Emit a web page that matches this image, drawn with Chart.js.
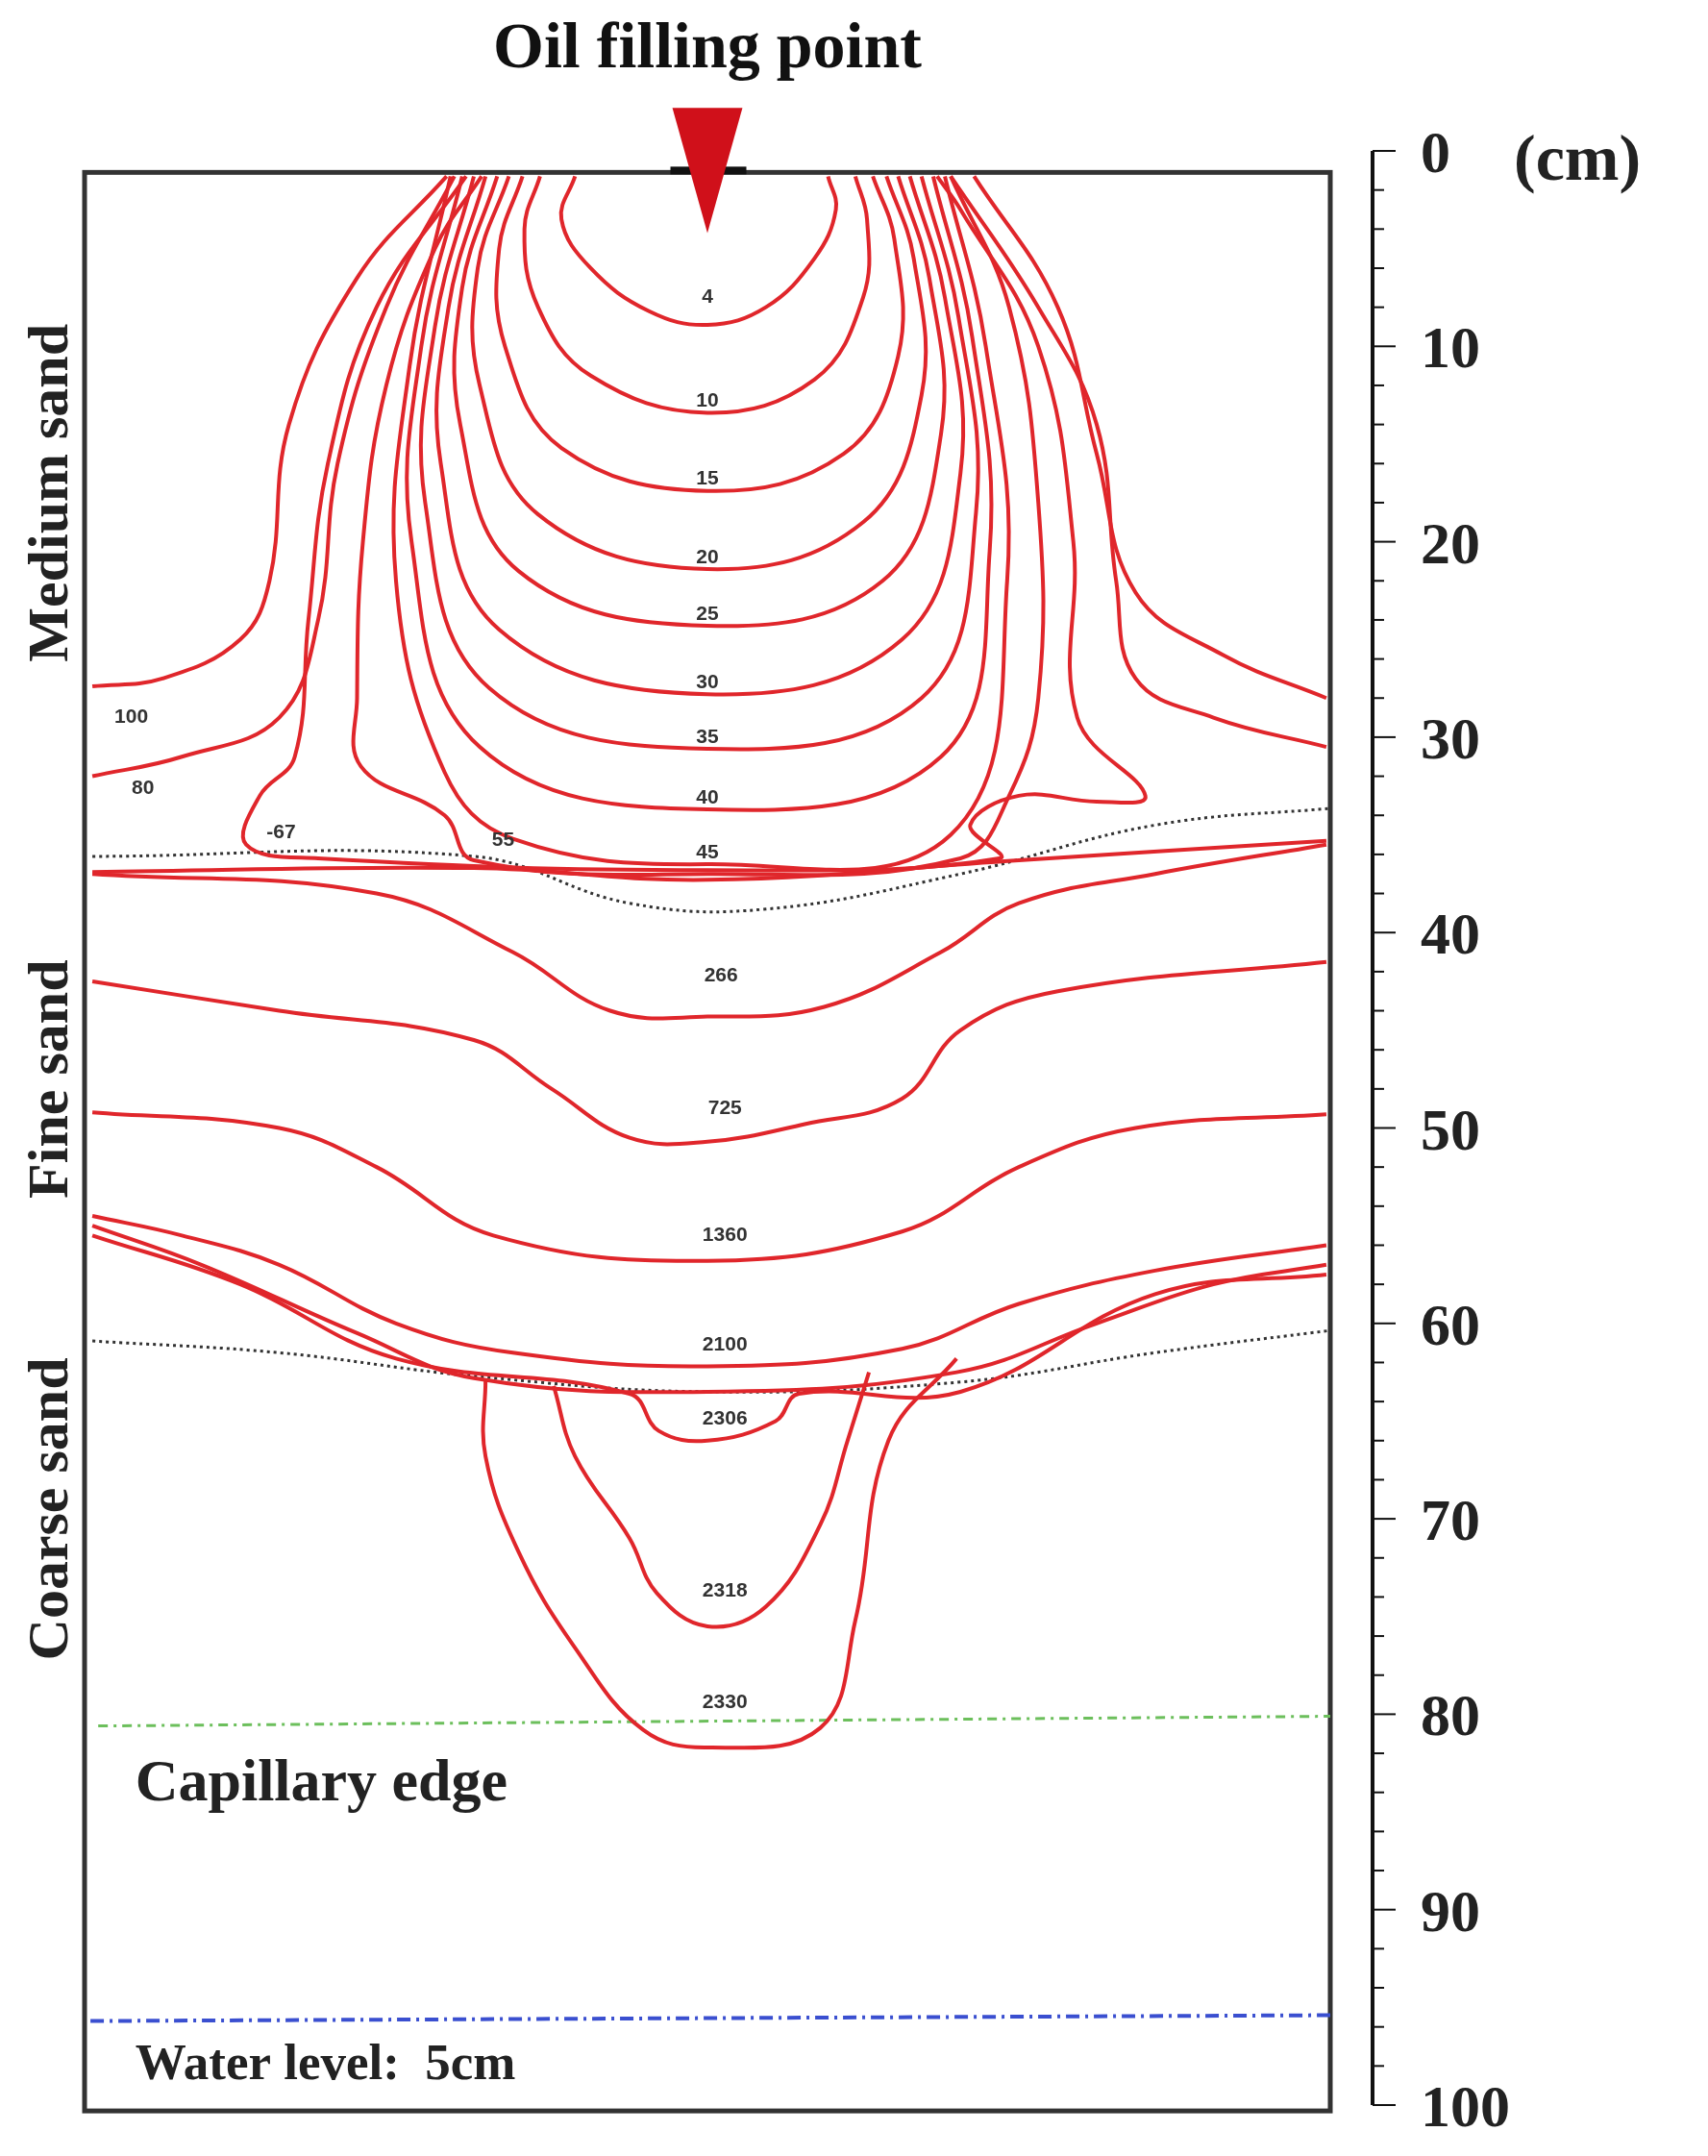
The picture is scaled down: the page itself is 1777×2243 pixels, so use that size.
<!DOCTYPE html>
<html><head><meta charset="utf-8">
<script src="https://cdn.jsdelivr.net/npm/chart.js@4/dist/chart.umd.min.js"></script>
<style>html,body{margin:0;background:#fff}#w{width:1777px;height:2243px}</style>
</head><body><div id="w"><canvas id="c"></canvas></div>
<script>
// depth ticks (cm)
const yTicks=[0,10,20,30,40,50,60,70,80,90,100];
// contour lines: [x(cm from left wall), depth(cm)]
const c4=[[25.2,1.3],[24.5,3.5],[26,6],[29,8.2],[32,8.9],[35,8],[37.5,5.5],[38.6,3],[38.2,1.3]];
const c10=[[23.4,1.3],[22.6,4],[23.3,8],[26,11.5],[32,13.4],[37.5,11.7],[40,7.5],[40.2,3.5],[39.6,1.3]];
const c15=[[22.5,1.3],[21.3,5],[21.6,10],[24.5,15.2],[32,17.4],[39,15.5],[41.8,10.5],[41.6,4.5],[40.5,1.3]];
const c20=[[21.8,1.3],[20.2,6],[20.3,12],[23.3,18.6],[32,21.4],[40,19],[43,12.5],[42.6,5.5],[41.2,1.3]];
const c25=[[21.2,1.3],[19.4,7],[19.3,14],[22.3,21.5],[32,24.3],[41,22],[44,14.5],[43.4,6.5],[41.8,1.3]];
const c30=[[20.6,1.3],[18.7,8],[18.3,16],[21.3,24.5],[32,27.8],[42,25],[45,16.5],[44.2,7.5],[42.4,1.3]];
const c35=[[20,1.3],[18,9],[17.5,18],[20.8,27.5],[32,30.6],[43,28],[45.8,18.5],[44.9,8.5],[43,1.3]];
const c40=[[19.4,1.3],[17.3,10],[16.8,20],[20.3,30.5],[32,33.7],[44,31],[46.5,20.5],[45.6,9.5],[43.6,1.3]];
const c45=[[18.8,1.3],[16.7,11],[16,22],[18.5,31.8],[22,35.2],[32,36.5],[44.5,35],[47.4,22],[46.3,10],[44.2,1.3]];
const c55=[[20.4,1.3],[18,5],[15.5,12],[14.3,20],[14,28],[14.2,31.5],[18.5,34],[20,36.3],[32,37],[45,36.2],[47.5,33],[49,28],[49,18],[47.5,8],[44.5,1.3]];
const c67=[[19.6,1.3],[15,8],[12.5,16],[11.5,24],[10.8,31],[9,33],[8.3,35.5],[12,36.2],[32,36.8],[47,36.2],[45.5,34.5],[48,33],[52,33.3],[54.5,33],[51,29],[50.8,20],[49,10],[45,3],[43.8,1.3]];
const c80L=[[0.4,32],[5,31],[10,29],[12,24],[13,16],[15.5,8],[19,1.3]];
const c80R=[[44.5,1.3],[49,8],[52,14],[53,22],[54,27],[58,29],[63.8,30.5]];
const c100L=[[0.4,27.4],[4,27],[8,25],[9.5,22],[10.5,14],[14,6.5],[18.6,1.3]];
const c100R=[[45.7,1.3],[50,8],[52,15.5],[54,22.6],[58.5,25.8],[63.8,28]];
const cBase=[[0.4,36.9],[20,36.7],[32,37.3],[48,36.3],[63.8,35.3]];
const c266=[[0.4,37],[15,38],[22,41],[27,44],[32,44.3],[38,43.8],[44,41],[48,38.5],[55,37],[63.8,35.5]];
const c725=[[0.4,42.5],[10,44],[20,45.5],[24,48],[28,50.5],[32,50.7],[37,49.8],[42,48.5],[45,45],[50,43],[63.8,41.5]];
const c1360=[[0.4,49.2],[10,50],[15,52],[21,55.5],[32,56.8],[42,55.3],[48,52],[54,50],[63.8,49.3]];
const c2100=[[0.4,54.5],[5,55.5],[10,57],[16,60],[22,61.5],[32,62.2],[42,61.3],[48,59],[55,57.3],[63.8,56]];
const cB2=[[0.4,55],[6,57],[14,60.5],[20,62.8],[32,63.5],[44.8,62.5],[52,60],[58,58],[63.8,57]];
const cB3=[[0.4,55.5],[8,58],[16,61.8],[28,63.6],[29.5,65.5],[32,66],[35.5,65],[36.7,63.6],[45,63.5],[55,58.5],[63.8,57.5]];
const c2318=[[24.1,63.2],[25.2,66.8],[28,71],[29.4,73.8],[32,75.5],[35,74.5],[37.8,70.3],[39.2,66],[40.3,62.5]];
const c2330=[[20.6,62.9],[20.6,66.8],[22.3,71.7],[25.2,76.6],[28.7,80.8],[32,81.7],[37.8,80.7],[39.6,75.2],[41.3,66],[44.8,61.8]];
// layer boundaries and levels
const dot1=[[0.4,36.1],[20,36.1],[28,38.5],[35,38.8],[45,37],[55,34.5],[64.5,33.6]];
const dot2=[[0.4,60.9],[10,61.5],[20,62.7],[32,63.5],[45,63],[55,61.5],[64.5,60.3]];
const capEdge=[[0.7,80.6],[64.5,80.1]];
const water=[[0.3,95.7],[64.5,95.4]];
// contour labels
const labels=[["4",32,7.5],["10",32,12.8],["15",32,16.8],["20",32,20.8],["25",32,23.7],["30",32,27.2],["35",32,30],["40",32,33.1],["45",32,35.9],
["100",2.4,29],["80",3,32.6],["-67",10.1,34.9],["55",21.5,35.3],["266",32.7,42.2],["725",32.9,49],["1360",32.9,55.5],["2100",32.9,61.1],["2306",32.9,64.9],["2318",32.9,73.7],["2330",32.9,79.4]];

const red='#e0262b';
const pts=a=>a.map(p=>({x:p[0],y:p[1]}));
const reds=[c4,c10,c15,c20,c25,c30,c35,c40,c45,c55,c67,c80L,c80R,c100L,c100R,cBase,c266,c725,c1360,c2100,cB2,cB3,c2318,c2330];
const ds=reds.map(a=>({data:pts(a),borderColor:red,borderWidth:4,tension:0.4}));
ds.push({data:pts(dot1),borderColor:'#333',borderWidth:3,borderDash:[3,4],tension:0.4});
ds.push({data:pts(dot2),borderColor:'#333',borderWidth:3,borderDash:[3,4],tension:0.4});
ds.push({data:pts(capEdge),borderColor:'#6cbf5c',borderWidth:3,borderDash:[10,6,3,6]});
ds.push({data:pts(water),borderColor:'#3a4fd0',borderWidth:4,borderDash:[14,6,3,6]});
ds.forEach(d=>{d.showLine=true;d.pointRadius=0;d.fill=false;});

const deco={id:'deco',
 beforeDatasetsDraw(ch){const {ctx,scales:{x,y}}=ch;
  ctx.save();ctx.strokeStyle='#333';ctx.lineWidth=5;
  const L=x.getPixelForValue(0),R=x.getPixelForValue(64),T=y.getPixelForValue(1.1),B=y.getPixelForValue(100.3);
  ctx.strokeRect(L,T,R-L,B-T);ctx.restore();},
 afterDatasetsDraw(ch){const {ctx,scales:{x,y}}=ch;ctx.save();
  const px=v=>x.getPixelForValue(v),py=v=>y.getPixelForValue(v);
  ctx.fillStyle='#111';ctx.fillRect(px(30.1),py(1.1)-6,px(34)-px(30.1),8);
  ctx.fillStyle='#d0101a';ctx.beginPath();ctx.moveTo(px(30.2),py(-2.2));ctx.lineTo(px(33.8),py(-2.2));ctx.lineTo(px(32),py(4.2));ctx.closePath();ctx.fill();
  ctx.fillStyle='#111';ctx.textAlign='center';ctx.textBaseline='middle';
  ctx.font='bold 68px "Liberation Serif","DejaVu Serif",serif';
  ctx.fillText('Oil filling point',px(32),52);
  ctx.font='bold 21px "Liberation Sans",Arial,sans-serif';ctx.fillStyle='#333';
  labels.forEach(l=>ctx.fillText(l[0],px(l[1]),py(l[2])));
  ctx.fillStyle='#222';ctx.textAlign='left';
  ctx.font='bold 62px "Liberation Serif",serif';
  ctx.fillText('Capillary edge',px(2.6),py(83.6));
  ctx.font='bold 53px "Liberation Serif",serif';
  ctx.fillText('Water level:  5cm',px(2.6),py(98));
  ctx.font='bold 60px "Liberation Serif",serif';ctx.textAlign='center';
  [['Medium sand',17.5],['Fine sand',47.5],['Coarse sand',69.5]].forEach(t=>{
   ctx.save();ctx.translate(54,py(t[1]));ctx.rotate(-Math.PI/2);ctx.fillText(t[0],0,0);ctx.restore();});
  const ax=1428;ctx.strokeStyle='#111';ctx.lineWidth=4;
  ctx.beginPath();ctx.moveTo(ax,py(0));ctx.lineTo(ax,py(100));ctx.stroke();
  ctx.lineWidth=2;
  for(let v=0;v<=100;v+=2){ctx.beginPath();ctx.moveTo(ax,py(v));ctx.lineTo(ax+(v%10===0?24:12),py(v));ctx.stroke();}
  ctx.font='bold 62px "Liberation Serif",serif';ctx.textAlign='left';
  yTicks.forEach(v=>ctx.fillText(String(v),ax+50,py(v)+6));
  ctx.font='bold 68px "Liberation Serif",serif';
  ctx.fillText('(cm)',1575,py(0)+12);
  ctx.restore();}};

new Chart(document.getElementById('c'),{type:'scatter',data:{datasets:ds},
 options:{responsive:true,maintainAspectRatio:false,animation:false,
  layout:{padding:{left:88,top:157,right:393,bottom:53}},
  plugins:{legend:{display:false},tooltip:{enabled:false}},
  scales:{x:{type:'linear',min:0,max:64,display:false},y:{type:'linear',min:0,max:100,reverse:true,display:false}}},
 plugins:[deco]});
</script></body></html>
